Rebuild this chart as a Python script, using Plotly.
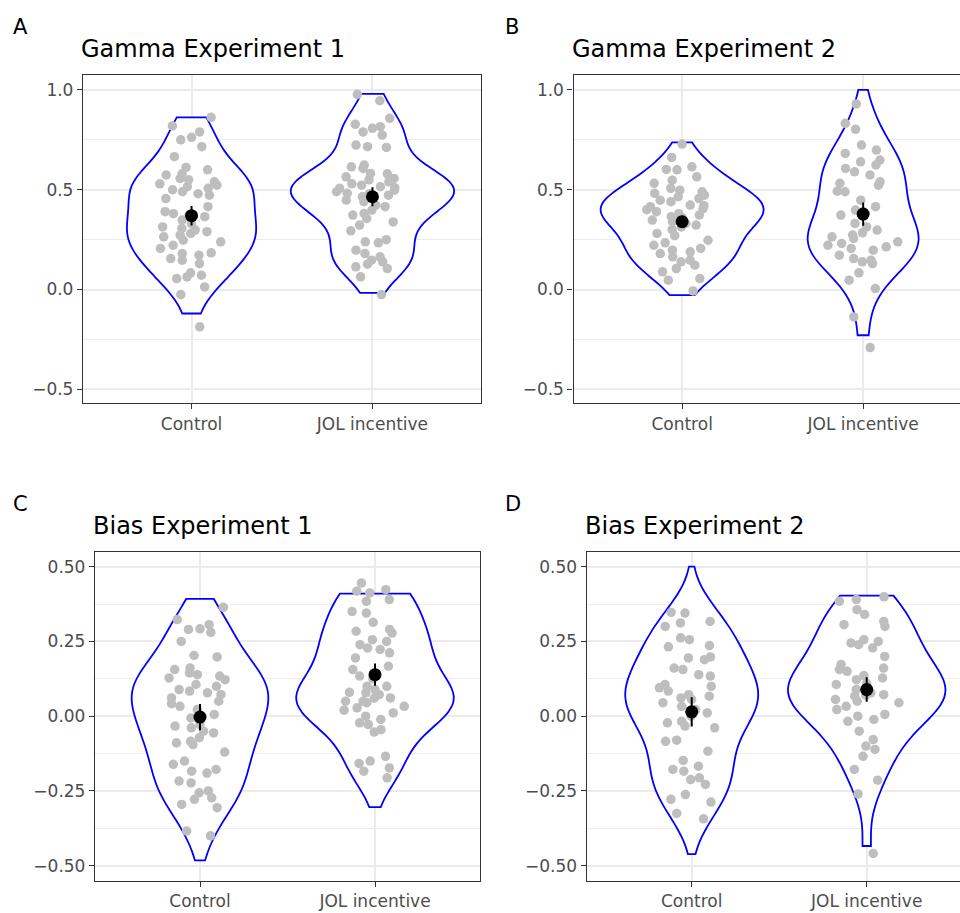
import numpy as np
import plotly.graph_objects as go

categories = ["Control", "JOL incentive"]
panel_titles = ["Gamma Experiment 1", "Gamma Experiment 2", "Bias Experiment 1", "Bias Experiment 2"]
panel_tags = ["A", "B", "C", "D"]

# ---- observed (plotted) participant values; overlapping points in dense clusters estimated ----
gamma1_control = [0.863, 0.82, 0.79, 0.763, 0.75, 0.716, 0.666, 0.612, 0.6, 0.58, 0.574, 0.557,
                  0.55, 0.54, 0.53, 0.523, 0.515, 0.507, 0.5, 0.49, 0.48, 0.473, 0.456, 0.415,
                  0.39, 0.38, 0.373, 0.365, 0.348, 0.33, 0.314, 0.306, 0.298, 0.29, 0.281, 0.273,
                  0.264, 0.247, 0.239, 0.222, 0.206, 0.184, 0.18, 0.172, 0.155, 0.147, 0.13, 0.084,
                  0.072, 0.063, 0.055, 0.013, -0.025, -0.187]
gamma1_jol = [0.978, 0.946, 0.858, 0.828, 0.816, 0.808, 0.79, 0.774, 0.724, 0.716, 0.712, 0.624,
              0.615, 0.607, 0.582, 0.565, 0.557, 0.54, 0.523, 0.515, 0.507, 0.498, 0.49, 0.482,
              0.473, 0.465, 0.456, 0.448, 0.44, 0.423, 0.415, 0.398, 0.381, 0.373, 0.356, 0.339,
              0.323, 0.294, 0.25, 0.239, 0.234, 0.197, 0.18, 0.164, 0.147, 0.139, 0.127, 0.114,
              0.105, 0.064, -0.025,
              0.48, 0.51, 0.53, 0.55, 0.58]
gamma2_control = [0.729, 0.662, 0.615, 0.602, 0.6, 0.565, 0.548, 0.532, 0.507, 0.498, 0.49, 0.482,
                  0.473, 0.465, 0.456, 0.448, 0.44, 0.423, 0.415, 0.406, 0.39, 0.373, 0.365, 0.348,
                  0.331, 0.323, 0.314, 0.281, 0.247, 0.234, 0.222, 0.206, 0.197, 0.189, 0.18, 0.164,
                  0.147, 0.139, 0.122, 0.105, 0.089, 0.055, 0.047, -0.007,
                  0.36, 0.38, 0.40, 0.34, 0.42, 0.30, 0.27]
gamma2_jol = [0.93, 0.833, 0.803, 0.724, 0.699, 0.682, 0.649, 0.64, 0.624, 0.607, 0.59, 0.574,
              0.54, 0.532, 0.523, 0.493, 0.49, 0.448, 0.415, 0.398, 0.39, 0.373, 0.331, 0.314,
              0.298, 0.284, 0.273, 0.264, 0.256, 0.239, 0.231, 0.222, 0.214, 0.206, 0.197, 0.172,
              0.155, 0.147, 0.139, 0.13, 0.084, 0.047, 0.005, -0.137, -0.291]
bias1_control = [0.364, 0.323, 0.306, 0.292, 0.29, 0.28, 0.25, 0.203, 0.198, 0.161, 0.156, 0.145,
                 0.139, 0.134, 0.128, 0.122, 0.106, 0.1, 0.089, 0.084, 0.078, 0.072, 0.061, 0.05,
                 0.042, 0.033, 0.022, 0.006, -0.006, -0.028, -0.033, -0.039, -0.05, -0.056, -0.072,
                 -0.084, -0.089, -0.095, -0.12, -0.15, -0.161, -0.178, -0.184, -0.19, -0.217,
                 -0.223, -0.25, -0.256, -0.273, -0.278, -0.295, -0.306, -0.384, -0.4]
bias1_jol = [0.445, 0.423, 0.418, 0.412, 0.39, 0.384, 0.35, 0.345, 0.314, 0.29, 0.284, 0.278,
             0.256, 0.25, 0.239, 0.228, 0.223, 0.212, 0.195, 0.167, 0.156, 0.134, 0.125, 0.1,
             0.089, 0.078, 0.072, 0.061, 0.05, 0.045, 0.033, 0.028, 0.011, 0.0, -0.011, -0.022,
             -0.028, -0.045, -0.053, -0.134, -0.15, -0.158, -0.173, -0.184, -0.206,
             0.02, 0.05, 0.08, 0.10, 0.06]
bias2_control = [0.347, 0.345, 0.317, 0.312, 0.3, 0.262, 0.256, 0.236, 0.232, 0.198, 0.195, 0.189,
                 0.161, 0.156, 0.139, 0.134, 0.106, 0.1, 0.095, 0.084, 0.072, 0.067, 0.061, 0.056,
                 0.045, 0.033, 0.022, 0.011, 0.0, -0.017, -0.022, -0.033, -0.039, -0.08, -0.084,
                 -0.117, -0.148, -0.167, -0.178, -0.184, -0.206, -0.212, -0.228, -0.262, -0.278,
                 -0.287, -0.325, -0.343]
bias2_jol = [0.399, 0.39, 0.384, 0.356, 0.34, 0.317, 0.306, 0.3, 0.256, 0.25, 0.245, 0.239,
             0.228, 0.2, 0.173, 0.161, 0.156, 0.136, 0.128, 0.122, 0.106, 0.089, 0.078, 0.072,
             0.067, 0.056, 0.05, 0.045, 0.033, 0.022, 0.006, 0.0, -0.011, -0.017, -0.05, -0.078,
             -0.1, -0.111, -0.134, -0.178, -0.214, -0.26, -0.459,
             0.07, 0.11, 0.15]

# ---- violin ranges (min, max of the underlying scores) ----
gamma1_span = [[-0.12, 0.863], [-0.017, 0.98]]
gamma2_span = [[-0.028, 0.737], [-0.229, 1.0]]
bias1_span = [[-0.482, 0.392], [-0.304, 0.41]]
bias2_span = [[-0.461, 0.50], [-0.434, 0.403]]

# ---- group means and error bar half-lengths ----
gamma1_mean = [0.37, 0.465]
gamma1_err = [0.049, 0.048]
gamma2_mean = [0.34, 0.378]
gamma2_err = [0.03, 0.058]
bias1_mean = [-0.003, 0.139]
bias1_err = [0.044, 0.037]
bias2_mean = [0.0145, 0.089]
bias2_err = [0.049, 0.041]

panel_data = [
    (gamma1_control, gamma1_jol, gamma1_span, gamma1_mean, gamma1_err),
    (gamma2_control, gamma2_jol, gamma2_span, gamma2_mean, gamma2_err),
    (bias1_control, bias1_jol, bias1_span, bias1_mean, bias1_err),
    (bias2_control, bias2_jol, bias2_span, bias2_mean, bias2_err),
]

W, H = 960, 913
# plot-area pixel boxes: (left, right, top, bottom)
boxes = [(83, 481, 75.3, 403.3), (573.5, 960, 75.3, 403.3),
         (95, 480, 552.3, 880.7), (586.7, 960, 552.3, 880.7)]
xranges = [[0.4, 2.6], [0.4, 2.535], [0.4, 2.6], [0.4, 2.533]]
yranges = [[-0.57, 1.0735], [-0.57, 1.0735], [-0.55, 0.548], [-0.55, 0.548]]
ydticks = [0.5, 0.5, 0.25, 0.25]
yfmt = [".1f", ".1f", ".2f", ".2f"]


def nrd0(v):
    v = np.asarray(v, dtype=float)
    sd = v.std(ddof=1)
    iqr = np.subtract(*np.percentile(v, [75, 25]))
    lo = min(sd, iqr / 1.34)
    return 0.9 * lo * len(v) ** (-0.2)


FONT = "DejaVu Sans, Liberation Sans, Arial, sans-serif"
fig = go.Figure()
layout = dict(
    width=W, height=H, margin=dict(l=0, r=0, t=0, b=0),
    paper_bgcolor="white", plot_bgcolor="white", showlegend=False,
    violinmode="overlay", violingap=0.1, violingroupgap=0,
    font=dict(family=FONT, color="#4D4D4D"),
)
annotations = []

for i, (ctrl, jol, span, mean, err) in enumerate(panel_data):
    k = i + 1
    xa, ya = f"x{k}", f"y{k}"
    for j, vals in enumerate([ctrl, jol]):
        fig.add_trace(go.Violin(
            y=vals, x0=j + 1, xaxis=xa, yaxis=ya,
            spanmode="manual", span=span[j], bandwidth=1.1 * nrd0(vals),
            scalegroup=f"p{k}", scalemode="width",
            line=dict(color="#0000FF", width=1.8), fillcolor="white",
            points="all", pointpos=0, jitter=0.48,
            marker=dict(color="#BEBEBE", size=9.5, line=dict(width=0)),
            box_visible=False, meanline_visible=False, hoverinfo="skip",
        ))
    fig.add_trace(go.Scatter(
        x=[1, 2], y=mean, xaxis=xa, yaxis=ya, mode="markers",
        marker=dict(color="black", size=13),
        error_y=dict(type="data", array=err, visible=True, color="black", thickness=2, width=0),
        hoverinfo="skip",
    ))
    l, r, t, b = boxes[i]
    right_panel = k in (2, 4)
    layout[f"xaxis{k}"] = dict(
        domain=[l / W, r / W], anchor=ya, range=xranges[i],
        tickvals=[1, 2], ticktext=categories,
        showgrid=True, gridcolor="#EBEBEB", gridwidth=1.5, zeroline=False,
        showline=True, linecolor="#333333", linewidth=1.3, mirror=True,
        ticks="outside", ticklen=5, tickcolor="#333333", tickwidth=1.3,
        tickfont=dict(size=17, color="#4D4D4D", family=FONT),
    )
    layout[f"yaxis{k}"] = dict(
        domain=[1 - b / H, 1 - t / H], anchor=xa, range=yranges[i],
        dtick=ydticks[i], tick0=0, tickformat=yfmt[i],
        showgrid=True, gridcolor="#EBEBEB", gridwidth=1.5, zeroline=False,
        minor=dict(dtick=ydticks[i] / 2, tick0=0, showgrid=True, gridcolor="#EBEBEB", gridwidth=0.8),
        showline=True, linecolor="#333333", linewidth=1.3, mirror=not right_panel,
        ticks="outside", ticklen=5, tickcolor="#333333", tickwidth=1.3,
        tickfont=dict(size=17, color="#4D4D4D", family=FONT),
    )
    # panel title
    annotations.append(dict(
        text=panel_titles[i], xref="paper", yref="paper",
        x=(l - 4) / W, y=1 - (t - 26) / H, xanchor="left", yanchor="middle",
        showarrow=False, font=dict(size=24, color="black", family=FONT),
    ))
    tag_x = 11 if not right_panel else 503
    annotations.append(dict(
        text=panel_tags[i], xref="paper", yref="paper",
        x=tag_x / W, y=1 - (t - 48.5) / H, xanchor="left", yanchor="middle",
        showarrow=False, font=dict(size=21, color="black", family=FONT),
    ))

layout["annotations"] = annotations
fig.update_layout(**layout)
fig.write_html("out.html")
